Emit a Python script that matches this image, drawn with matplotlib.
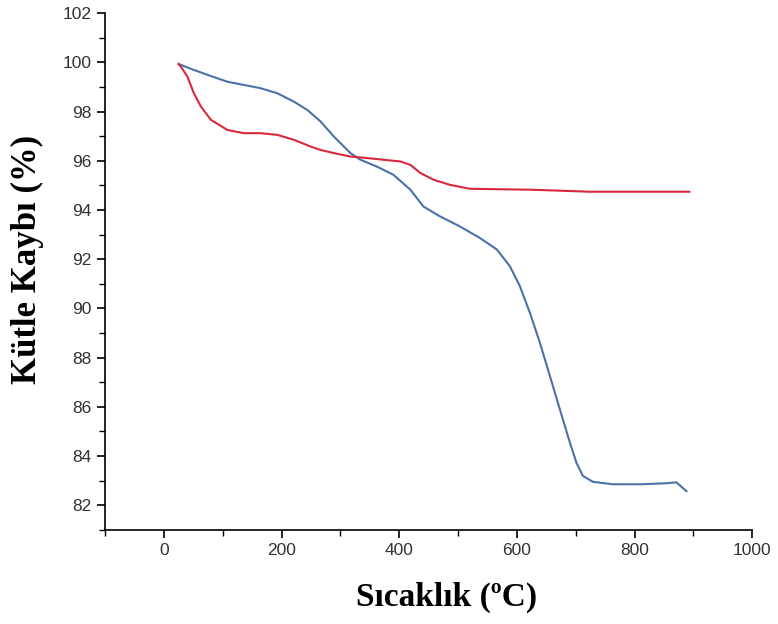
import matplotlib
matplotlib.use("Agg")
import matplotlib.pyplot as plt
from matplotlib.ticker import MultipleLocator

# temperature (C) and mass (%) values
temp_blue = [25, 51, 80, 108, 136, 164, 193, 221, 244, 266, 289, 317, 334, 362, 390, 419, 441, 469,
             503, 537, 566, 588, 605, 622, 639, 656, 673, 690, 701, 712, 729, 763, 810, 854, 871, 888]
mass_blue = [99.93, 99.69, 99.44, 99.21, 99.08, 98.95, 98.74, 98.4, 98.06, 97.6, 96.98, 96.31, 96.04,
             95.76, 95.43, 94.82, 94.14, 93.74, 93.33, 92.86, 92.39, 91.71, 90.9, 89.82, 88.6, 87.25,
             85.89, 84.54, 83.73, 83.19, 82.95, 82.85, 82.85, 82.89, 82.93, 82.57]

temp_red = [25, 29, 40, 51, 63, 80, 108, 136, 164, 193, 221, 249, 266, 289, 317, 345, 373, 402, 419,
            436, 458, 486, 520, 627, 724, 893]
mass_red = [99.93, 99.82, 99.42, 98.74, 98.2, 97.66, 97.25, 97.12, 97.12, 97.05, 96.85, 96.58, 96.44,
            96.31, 96.17, 96.11, 96.04, 95.97, 95.83, 95.5, 95.23, 95.02, 94.86, 94.82, 94.74, 94.74]

fig = plt.figure(figsize=(7.78, 6.24), dpi=100)
ax = fig.add_axes([0.135, 0.151, 0.832, 0.828])

ax.plot(temp_blue, mass_blue, color="#4a72a8", lw=1.5)
ax.plot(temp_red, mass_red, color="#d9283c", lw=1.5)

ax.set_xlim(-100, 1000)
ax.set_ylim(81, 102)
ax.xaxis.set_major_locator(MultipleLocator(200))
ax.xaxis.set_minor_locator(MultipleLocator(100))
ax.yaxis.set_major_locator(MultipleLocator(2))
ax.yaxis.set_minor_locator(MultipleLocator(1))

for s in ["top", "right"]:
    ax.spines[s].set_visible(False)
for s in ["left", "bottom"]:
    ax.spines[s].set_linewidth(1.2)

ax.tick_params(which="major", direction="out", length=6, width=1.2, labelsize=12.5)
ax.tick_params(which="minor", direction="out", length=4, width=1.0)
for lab in ax.get_xticklabels() + ax.get_yticklabels():
    lab.set_fontfamily("Liberation Sans")
    lab.set_color("#333333")

ax.set_xlabel("Sıcaklık (ºC)", fontfamily="Liberation Serif", fontweight="bold", fontsize=24)
ax.set_ylabel("Kütle Kaybı (%)", fontfamily="Liberation Serif", fontweight="bold", fontsize=25)
# label positions in axes coordinates
ax.xaxis.set_label_coords(0.528, -0.1)
ax.yaxis.set_label_coords(-0.095, 0.524)

fig.savefig("out.png", dpi=100)
